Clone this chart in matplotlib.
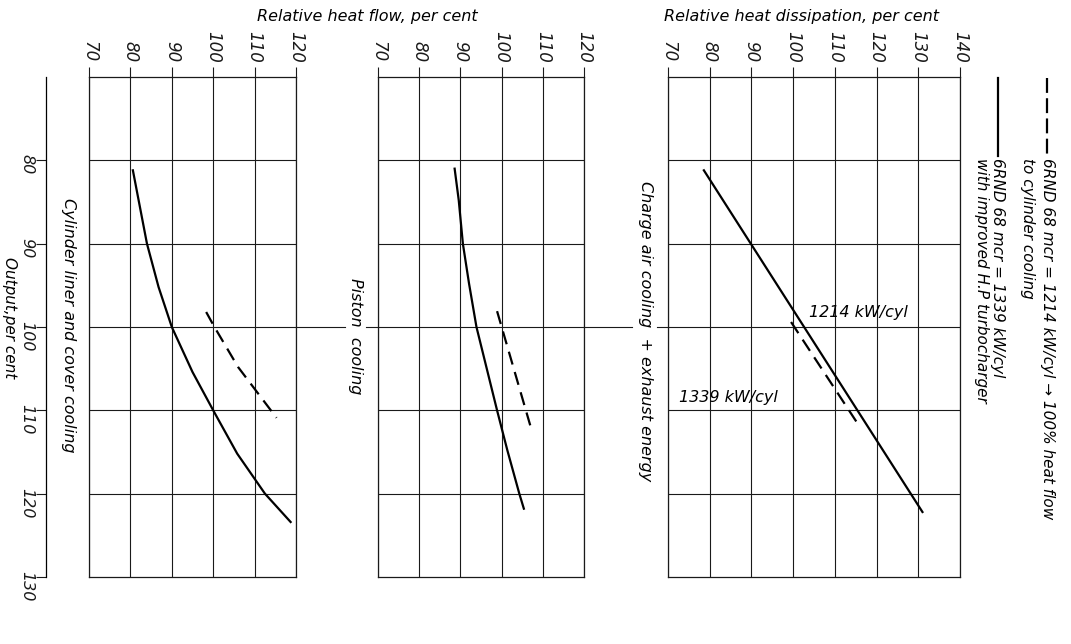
import matplotlib
matplotlib.use('Agg')
import matplotlib.pyplot as plt
from matplotlib.lines import Line2D

plt.rcParams['font.family'] = ['DejaVu Sans']
plt.rcParams['font.style'] = 'italic'

W, H = 1071, 644

# output, per cent (vertical axis, shared)
output_ticks = [80, 90, 100, 110, 120, 130]

# cylinder liner and cover cooling
cyl_out_1339 = [81.2, 85.6, 90, 95.2, 100, 105.4, 110, 115.2, 120, 123.4]
cyl_heat_1339 = [80.6, 82.3, 84.0, 86.8, 90.0, 95.0, 100.0, 105.8, 112.5, 118.7]
cyl_out_1214 = [98.2, 100, 104.8, 110.9]
cyl_heat_1214 = [98.3, 100.3, 106.0, 115.3]

# piston cooling
pis_out_1339 = [81.0, 84.8, 90, 94.8, 100, 104.8, 110, 114.8, 120, 121.8]
pis_heat_1339 = [88.6, 89.6, 90.6, 92.1, 93.9, 96.3, 98.9, 101.4, 104.3, 105.4]
pis_out_1214 = [98.1, 112.4]
pis_heat_1214 = [98.9, 107.3]

# charge air cooling + exhaust energy
chg_out_1339 = [81.2, 122.2]
chg_heat_1339 = [78.6, 131.0]
chg_out_1214 = [99.4, 112.0]
chg_heat_1214 = [99.5, 116.0]

heat_ticks_small = [70, 80, 90, 100, 110, 120]
heat_ticks_big = [70, 80, 90, 100, 110, 120, 130, 140]

FS = 11.5


def fx(x):
    return x / W


def fy(y):
    return 1 - y / H


def box(left, right, top=77, bottom=577):
    return [fx(left), fy(bottom), (right - left) / W, (bottom - top) / H]


fig = plt.figure(figsize=(W / 100, H / 100), dpi=100)

LW = 1.6
GRID = dict(color='#1a1a1a', lw=0.8)
DASH = (0, (6, 3.5))


def panel(rect, xmax, xticks):
    ax = fig.add_axes(rect)
    ax.set_xlim(70, xmax)
    ax.set_ylim(130, 70)
    ax.xaxis.tick_top()
    ax.set_xticks(xticks)
    ax.set_xticklabels([str(t) for t in xticks], rotation=-90, fontsize=12)
    ax.set_yticks(output_ticks[:-1])
    ax.tick_params(axis='y', left=False, labelleft=False)
    ax.tick_params(axis='x', direction='out', length=7, width=0.8, pad=3.5, colors='#1a1a1a')
    ax.grid(True, **GRID)
    for s in ax.spines.values():
        s.set_color('#1a1a1a')
        s.set_linewidth(0.9)
    return ax


ax1 = panel(box(89, 296), 120, heat_ticks_small)
ax2 = panel(box(378, 584), 120, heat_ticks_small)
ax3 = panel(box(668, 960), 140, heat_ticks_big)

ax1.plot(cyl_heat_1339, cyl_out_1339, color='black', lw=LW)
ax1.plot(cyl_heat_1214, cyl_out_1214, color='black', lw=LW, linestyle=DASH)
ax2.plot(pis_heat_1339, pis_out_1339, color='black', lw=LW)
ax2.plot(pis_heat_1214, pis_out_1214, color='black', lw=LW, linestyle=DASH)
ax3.plot(chg_heat_1339, chg_out_1339, color='black', lw=LW)
ax3.plot(chg_heat_1214, chg_out_1214, color='black', lw=LW, linestyle=DASH)

# 100 % output line carried across the gaps between panels
ax1.axhline(100, xmin=1, xmax=1 + 49 / 207, clip_on=False, **GRID)
ax2.axhline(100, xmin=-12 / 206, xmax=0, clip_on=False, **GRID)
ax2.axhline(100, xmin=1, xmax=1 + 48 / 206, clip_on=False, **GRID)
ax3.axhline(100, xmin=-11 / 292, xmax=0, clip_on=False, **GRID)

ax3.text(115.7, 98.2, '1214 kW/cyl', ha='center', va='center', fontsize=FS)
ax3.text(84.5, 108.4, '1339 kW/cyl', ha='center', va='center', fontsize=FS)

# output axis on the left
ax0 = fig.add_axes(box(46, 46.5))
ax0.set_ylim(130, 70)
ax0.set_xticks([])
ax0.set_yticks(output_ticks)
ax0.set_yticklabels([str(t) for t in output_ticks], rotation=-90, fontsize=11.5)
ax0.tick_params(axis='y', direction='out', length=7, width=0.8, pad=1.5, colors='#1a1a1a')
for k in ['top', 'right', 'bottom']:
    ax0.spines[k].set_visible(False)
ax0.spines['left'].set_linewidth(0.9)
ax0.patch.set_visible(False)

fig.text(fx(9), fy(318), 'Output,per cent', rotation=-90, ha='center', va='center', fontsize=11)

fig.text(fx(367), fy(17), 'Relative heat flow, per cent', ha='center', va='center', fontsize=FS)
fig.text(fx(802), fy(17), 'Relative heat dissipation, per cent', ha='center', va='center', fontsize=FS)

fig.text(fx(68), fy(325), 'Cylinder liner and cover cooling', rotation=-90, ha='center', va='center', fontsize=FS)
fig.text(fx(355), fy(336), 'Piston  cooling', rotation=-90, ha='center', va='center', fontsize=FS)
fig.text(fx(645), fy(331), 'Charge air cooling  + exhaust energy', rotation=-90, ha='center', va='center', fontsize=FS)

# legend, drawn in the same rotated sense
fig.add_artist(Line2D([fx(1047), fx(1047)], [fy(78), fy(156)], color='black', lw=LW,
                      linestyle=(0, (6.7, 2.4))))
fig.add_artist(Line2D([fx(998), fx(998)], [fy(78), fy(156)], color='black', lw=LW))
fig.text(fx(1047), fy(158), '6RND 68 mcr = 1214 kW/cyl \u2192 100% heat flow', rotation=-90,
         ha='center', va='top', fontsize=11)
fig.text(fx(1028), fy(158), 'to cylinder cooling', rotation=-90, ha='center', va='top', fontsize=11)
fig.text(fx(998), fy(158), '6RND 68 mcr = 1339 kW/cyl', rotation=-90, ha='center', va='top', fontsize=11)
fig.text(fx(982), fy(158), 'with improved H.P turbocharger', rotation=-90, ha='center', va='top', fontsize=11)

fig.savefig('out.png', dpi=100)
